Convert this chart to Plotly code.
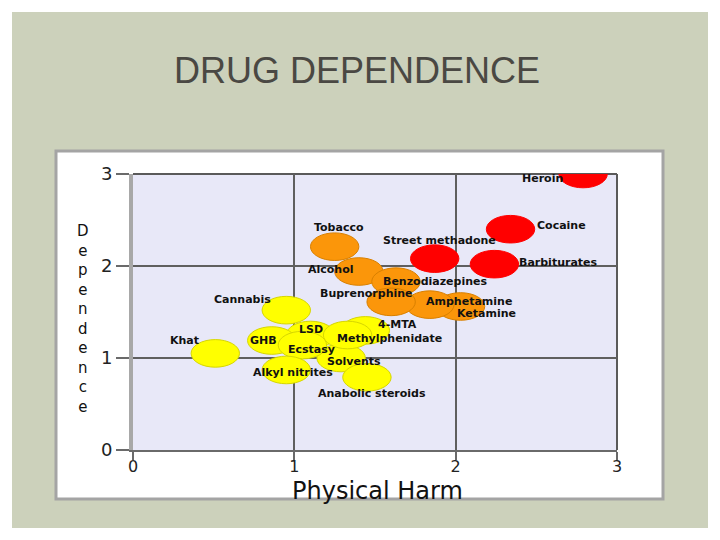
import plotly.graph_objects as go

# ---------------- data ----------------
drugs = ["Heroin", "Cocaine", "Barbiturates", "Street methadone", "Alcohol",
         "Ketamine", "Benzodiazepines", "Amphetamine", "Tobacco", "Buprenorphine",
         "Cannabis", "Solvents", "4-MTA", "LSD", "Methylphenidate",
         "Anabolic steroids", "GHB", "Ecstasy", "Alkyl nitrites", "Khat"]
physical_harm = [2.79, 2.34, 2.24, 1.87, 1.40, 2.03, 1.63, 1.84, 1.25, 1.60,
                 0.95, 1.29, 1.44, 1.10, 1.33, 1.45, 0.86, 1.05, 0.95, 0.51]
dependence = [3.00, 2.40, 2.02, 2.08, 1.94, 1.56, 1.83, 1.58, 2.21, 1.61,
              1.52, 1.00, 1.30, 1.25, 1.25, 0.79, 1.19, 1.14, 0.87, 1.05]
harm_class = ["high", "high", "high", "high", "mid", "mid", "mid", "mid", "mid", "mid",
              "low", "low", "low", "low", "low", "low", "low", "low", "low", "low"]
tick_values = [0, 1, 2, 3]
tick_labels = ["0", "1", "2", "3"]
title_text = "DRUG DEPENDENCE"
x_title = "Physical Harm"
y_title = "Dependence"

# ---------------- styles ----------------
FILL = {"high": "#ff0000", "mid": "#fb960a", "low": "#ffff00"}
EDGE = {"high": "#ff0000", "mid": "#d98000", "low": "#d6d600"}
R = 0.15  # bubble radius in data units
# label placement: (xanchor, xshift px, yshift px)
LABEL_POS = {
    "Heroin": ("right", -18, -4), "Cocaine": ("left", 24, 4),
    "Barbiturates": ("left", 23, 2), "Street methadone": ("center", 5, 18),
    "Alcohol": ("right", -3, 2), "Ketamine": ("left", -6, -7),
    "Benzodiazepines": ("left", -15, 0), "Amphetamine": ("left", -6, 3),
    "Tobacco": ("center", 4, 19), "Buprenorphine": ("center", -25, 8),
    "Cannabis": ("right", -13, 11), "Solvents": ("center", 13, -3),
    "4-MTA": ("left", 11, 6), "LSD": ("center", 1, 6),
    "Methylphenidate": ("left", -13, -3), "Anabolic steroids": ("center", 5, -16),
    "GHB": ("center", -8, 0), "Ecstasy": ("center", 9, -4),
    "Alkyl nitrites": ("center", 7, -3), "Khat": ("right", -14, 13),
}

W, H = 720, 540
OFF = 8  # page body margin
L, RGT, T, B = 133 - OFF, 617 - OFF, 174 - OFF, 450 - OFF  # plot area in figure pixels


def px(X):
    return (X - OFF - L) / (RGT - L)


def py(Y):
    return (B - (Y - OFF)) / (B - T)


fig = go.Figure()
# invisible hover points at data positions
fig.add_trace(go.Scatter(x=physical_harm, y=dependence, mode="markers",
                         marker=dict(size=30, opacity=0), text=drugs,
                         hoverinfo="text", showlegend=False))

shapes = [
    # slide background
    dict(type="rect", xref="paper", yref="paper", x0=px(12), x1=px(708), y0=py(528), y1=py(12),
         fillcolor="#ccd1bb", line=dict(width=0), layer="below"),
    # white chart panel
    dict(type="rect", xref="paper", yref="paper", x0=px(56), x1=px(663), y0=py(499), y1=py(151),
         fillcolor="white", line=dict(color="#a4a4a4", width=3), layer="below"),
    # plot background
    dict(type="rect", xref="paper", yref="paper", x0=0, x1=1, y0=0, y1=1,
         fillcolor="#e8e8f8", line=dict(width=0), layer="below"),
    # top and right frame
    dict(type="line", xref="paper", yref="paper", x0=0, x1=1, y0=1, y1=1,
         line=dict(color="#5a5a5a", width=2), layer="below"),
    dict(type="line", xref="paper", yref="paper", x0=1, x1=1, y0=0, y1=1,
         line=dict(color="#5a5a5a", width=2), layer="below"),
]
for name, xv, yv, c in zip(drugs, physical_harm, dependence, harm_class):
    shapes.append(dict(type="circle", xref="x", yref="y",
                       x0=xv - R, x1=xv + R, y0=yv - R, y1=yv + R,
                       fillcolor=FILL[c], line=dict(color=EDGE[c], width=1), layer="above"))

annotations = []
for name, xv, yv in zip(drugs, physical_harm, dependence):
    anc, xs, ys = LABEL_POS[name]
    annotations.append(dict(x=xv, y=yv, xref="x", yref="y", text=name, showarrow=False,
                            xanchor=anc, yanchor="middle", xshift=xs, yshift=ys,
                            font=dict(family="DejaVu Sans", size=11, color="#111111", weight="bold")))

# slide title
annotations.append(dict(x=px(172), y=py(71), xref="paper", yref="paper", text=title_text,
                        showarrow=False, xanchor="left", yanchor="middle",
                        font=dict(family="Liberation Sans", size=36, color="#4a4843")))
# x axis title
annotations.append(dict(x=px(377), y=py(491), xref="paper", yref="paper", text=x_title,
                        showarrow=False, xanchor="center", yanchor="middle",
                        font=dict(family="DejaVu Sans", size=24, color="#111111")))
# y axis title, letters stacked upright
annotations.append(dict(x=px(83), y=py(319), xref="paper", yref="paper",
                        text="<br>".join(list(y_title)),
                        showarrow=False, xanchor="center", yanchor="middle",
                        font=dict(family="DejaVu Sans", size=15, color="#111111")))

fig.update_layout(
    width=W, height=H, autosize=False,
    margin=dict(l=L, r=W - RGT, t=T, b=H - B, pad=0),
    paper_bgcolor="white", plot_bgcolor="rgba(0,0,0,0)",
    shapes=shapes, annotations=annotations, showlegend=False,
    xaxis=dict(range=[0, 3], tickvals=tick_values, ticktext=tick_labels,
               showgrid=True, gridcolor="#5f5f5f", gridwidth=2, zeroline=False,
               showline=True, linecolor="#6a6a6a", linewidth=2,
               ticks="outside", ticklen=8, tickwidth=2, tickcolor="#6a6a6a",
               ticklabelstandoff=-7,
               tickfont=dict(family="DejaVu Sans", size=16, color="#222222"),
               fixedrange=True),
    yaxis=dict(range=[0, 3], tickvals=tick_values, ticktext=tick_labels,
               showgrid=True, gridcolor="#5f5f5f", gridwidth=2, zeroline=False,
               showline=True, linecolor="#a8a8a8", linewidth=4,
               ticks="outside", ticklen=13, tickwidth=2, tickcolor="#6a6a6a",
               tickfont=dict(family="DejaVu Sans", size=18, color="#222222"),
               fixedrange=True),
)

fig.write_html("out.html")
